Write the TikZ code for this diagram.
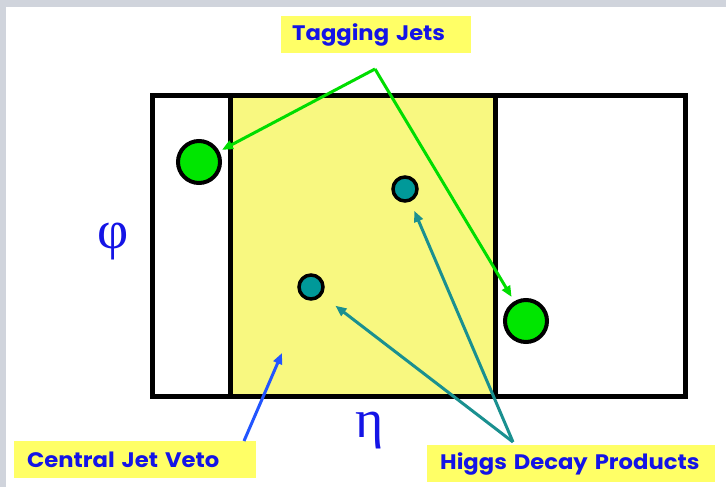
\documentclass[tikz,border=0pt]{standalone}
\usepackage{fontspec}
\usetikzlibrary{arrows.meta}
\newfontfamily\labfont{Poppins}[BoldFont={* Bold}, FakeStretch=1.08]
\newfontfamily\grkfont{Liberation Serif}
\definecolor{bggray}{HTML}{D0D4DC}
\definecolor{labyellow}{HTML}{FFFF66}
\definecolor{regyellow}{HTML}{F8F880}
\definecolor{txtblue}{HTML}{1414E6}
\definecolor{jetgreen}{HTML}{00E600}
\definecolor{arrgreen}{HTML}{00DD00}
\definecolor{decteal}{HTML}{009999}
\definecolor{arrteal}{HTML}{1A9090}
\definecolor{arrblue}{HTML}{2255FF}
\tikzset{
  lab/.style={fill=labyellow, text=txtblue, font=\labfont\bfseries\fontsize{21}{23}\selectfont,
    minimum height=37pt, inner ysep=0pt, align=left},
  greek/.style={text=txtblue, font=\grkfont\fontsize{54}{56}\selectfont, inner sep=0pt},
  jet/.style={circle, draw=black, line width=4pt, fill=jetgreen, minimum size=42pt, inner sep=0pt},
  prod/.style={circle, draw=black, line width=3.5pt, fill=decteal, minimum size=24pt, inner sep=0pt},
  tip/.style={-{Triangle[length=11pt,width=9pt]}},
  garrow/.style={tip, draw=arrgreen, line width=3pt},
  tarrow/.style={tip, draw=arrteal, line width=3pt},
  barrow/.style={tip, draw=arrblue, line width=3pt},
}
\begin{document}
\begin{tikzpicture}[x=1pt,y=-1pt]
\fill[bggray] (0,0) rectangle (726,487);
\fill[white] (6,7) rectangle (726,487);
\useasboundingbox (0,0) rectangle (726,487);
% detector frame
\fill[regyellow] (230,96) rectangle (495,396);
\draw[line width=5pt] (152,96) rectangle (685,396);
\draw[line width=5pt] (230,96) -- (230,396);
\draw[line width=5pt] (495,96) -- (495,396);
% jets and decay products
\node[jet] (j1) at (199,162) {};
\node[jet] (j2) at (526,321) {};
\node[prod] (p1) at (405,189) {};
\node[prod] (p2) at (311,287) {};
% axis labels
\node[greek] (phi) at (113,242) {φ};
\node[greek] (eta) at (370,431) {η};
% labels
\node[lab, text width=168pt, inner xsep=11pt, anchor=north west] (tj) at (281,16) {\mbox{Tagging Jets}};
\node[lab, text width=216pt, inner xsep=13pt, anchor=north west] (cjv) at (14,441) {\mbox{Central Jet Veto}};
\node[lab, text width=262pt, inner xsep=13pt, anchor=north west] (hdp) at (427,445) {\mbox{Higgs Decay Products}};
% connectors
\coordinate (gapex) at (375,69);
\coordinate (tapex) at (513,442);
\coordinate (bstart) at (244,441);
\coordinate (bend) at (282,353);
\draw[garrow, shorten >=3pt] (gapex) -- (j1);
\draw[garrow, shorten >=5pt] (gapex) -- (j2);
\draw[tarrow, shorten >=10pt] (tapex) -- (p1);
\draw[tarrow, shorten >=17pt] (tapex) -- (p2);
\draw[barrow] (bstart) -- (bend);
\end{tikzpicture}
\end{document}
